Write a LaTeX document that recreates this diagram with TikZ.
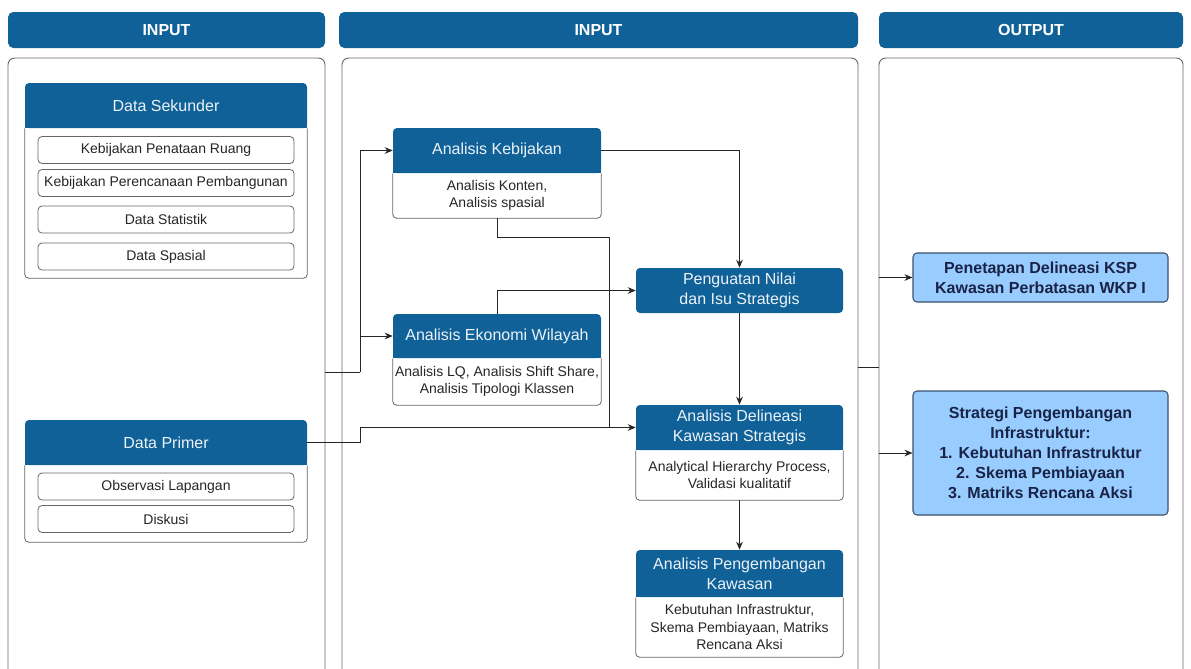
\documentclass[tikz,border=0pt]{standalone}
\usepackage{fontspec}
\setmainfont{Liberation Sans}
\usetikzlibrary{arrows.meta}
\definecolor{hblue}{RGB}{16,97,152}
\definecolor{lblue}{RGB}{153,204,255}
\definecolor{oline}{RGB}{60,80,110}
\definecolor{navy}{RGB}{25,35,70}
\tikzset{
  panel/.style={draw=black!60, fill=white, rounded corners=5pt, line width=0.7pt, inner sep=0pt},
  topbar/.style={fill=hblue, rounded corners=4pt, text=white, font=\fontsize{12}{14}\selectfont\bfseries, inner sep=0pt},
  hdr/.style={fill=hblue, rounded corners=3pt, text=white!92!hblue, font=\fontsize{12}{15}\selectfont, align=center, inner sep=0pt},
  body/.style={inner sep=0pt, font=\fontsize{10.5}{12.8}\selectfont, align=center, text=black!85},
  bodyline/.style={draw=black!60, line width=0.6pt, rounded corners=3pt},
  item/.style={draw=black!60, fill=white, rounded corners=3pt, line width=0.6pt, font=\fontsize{10.5}{12.5}\selectfont, text=black!85, inner sep=0pt, minimum width=192pt, minimum height=20.25pt},
  outbox/.style={draw=oline, fill=lblue, rounded corners=3pt, line width=0.8pt, font=\fontsize{12}{15}\selectfont\bfseries, text=navy, align=center, inner sep=0pt, minimum width=191.25pt},
  arr/.style={draw=black!85, line width=0.7pt, -{Stealth[length=6pt,width=5pt]}},
  ln/.style={draw=black!85, line width=0.7pt},
}
\newcommand\cardframe[2]{%
  \fill[hblue] ([yshift=4pt]#1.south west) rectangle (#1.south east);
  \draw[bodyline] (#1.south west) -- (#1.south west |- #2.south) -- (#2.south east) -- (#1.south east);}
\begin{document}
\begin{tikzpicture}[x=0.75pt,y=-0.75pt]
\path[use as bounding box] (0,0) rectangle (1191,668);
\clip (0,0) rectangle (1191,668);
\fill[white] (0,0) rectangle (1191,668);

% top bars
\node[topbar, minimum width=237.75pt, minimum height=27pt] (T1) at (166.5,30) {INPUT};
\node[topbar, minimum width=389.25pt, minimum height=27pt] (T2) at (598.5,30) {INPUT};
\node[topbar, minimum width=228pt, minimum height=27pt] (T3) at (1031,30) {OUTPUT};

% panels
\node[panel, minimum width=237.75pt, minimum height=481.5pt] (P1) at (166.5,379) {};
\node[panel, minimum width=387pt, minimum height=481.5pt] (P2) at (600,379) {};
\node[panel, minimum width=228pt, minimum height=481.5pt] (P3) at (1031,379) {};

% left column: Data Sekunder
\node[hdr, minimum width=211.5pt, minimum height=33.75pt] (DSh) at (166,105.5) {Data Sekunder};
\node[body, minimum width=211.5pt, minimum height=112.5pt] (DSb) at (166,203) {};
\cardframe{DSh}{DSb}
\node[item] (i1) at (166,150) {Kebijakan Penataan Ruang};
\node[item] (i2) at (166,183) {Kebijakan Perencanaan Pembangunan};
\node[item] (i3) at (166,219.5) {Data Statistik};
\node[item] (i4) at (166,256.5) {Data Spasial};

% left column: Data Primer
\node[hdr, minimum width=211.5pt, minimum height=33.75pt] (DPh) at (166,442.5) {Data Primer};
\node[body, minimum width=211.5pt, minimum height=57.75pt] (DPb) at (166,503.5) {};
\cardframe{DPh}{DPb}
\node[item] (i5) at (166,486.5) {Observasi Lapangan};
\node[item] (i6) at (166,519) {Diskusi};

% middle column
\node[hdr, minimum width=156pt, minimum height=33.75pt] (AKh) at (497,150.5) {Analisis Kebijakan};
\node[body, minimum width=156pt, minimum height=33.75pt] (AKb) at (497,195.5) {Analisis Konten,\\Analisis spasial};
\cardframe{AKh}{AKb}

\node[hdr, minimum width=156pt, minimum height=33pt] (AEWh) at (497,336) {Analisis Ekonomi Wilayah};
\node[body, minimum width=156pt, minimum height=35.25pt] (AEWb) at (497,381.5) {Analisis LQ, Analisis Shift Share,\\Analisis Tipologi Klassen};
\cardframe{AEWh}{AEWb}

\node[hdr, minimum width=155.25pt, minimum height=33.75pt] (PN) at (739.5,290.5) {Penguatan Nilai\\dan Isu Strategis};

\node[hdr, minimum width=155.25pt, minimum height=33.75pt] (ADKh) at (739.5,427.5) {Analisis Delineasi\\Kawasan Strategis};
\node[body, minimum width=155.25pt, minimum height=37.5pt] (ADKb) at (739.5,475) {Analytical Hierarchy Process,\\Validasi kualitatif};
\cardframe{ADKh}{ADKb}

\node[hdr, minimum width=155.25pt, minimum height=35.25pt] (APKh) at (739.5,573.5) {Analisis Pengembangan\\Kawasan};
\node[body, minimum width=155.25pt, minimum height=45pt] (APKb) at (739.5,627) {Kebutuhan Infrastruktur,\\Skema Pembiayaan, Matriks\\Rencana Aksi};
\cardframe{APKh}{APKb}

% right column
\node[outbox, minimum height=36.75pt] (Pen) at (1040.5,277.5) {Penetapan Delineasi KSP\\Kawasan Perbatasan WKP I};
\node[outbox, minimum height=93pt] (Str) at (1040.5,453) {Strategi Pengembangan\\Infrastruktur:\\1. Kebutuhan Infrastruktur\\2. Skema Pembiayaan\\3. Matriks Rencana Aksi};

% connectors
\coordinate (j1) at (360,372);
\coordinate (k1) at (609,237);
\coordinate (mj) at (868,367);
\draw[ln] (j1 -| P1.east) -- (j1);
\draw[arr] (j1) |- (AKh.west);
\draw[arr] (j1) |- (AEWh.west);
\draw[arr] (DPh.east) -- (DPh.east -| j1) |- (ADKh.west);
\draw[arr] (AKh.east) -| (PN.north);
\draw[ln] (AKb.south) |- (k1) -- (k1 |- ADKh.west);
\draw[arr] (AEWh.north) |- (PN.west);
\draw[arr] (PN.south) -- (ADKh.north);
\draw[arr] (ADKb.south) -- (APKh.north);
\draw[ln] (mj -| P2.east) -- (mj -| P3.west);
\draw[arr] (Pen.west -| P3.west) -- (Pen.west);
\draw[arr] (Str.west -| P3.west) -- (Str.west);
\end{tikzpicture}
\end{document}
